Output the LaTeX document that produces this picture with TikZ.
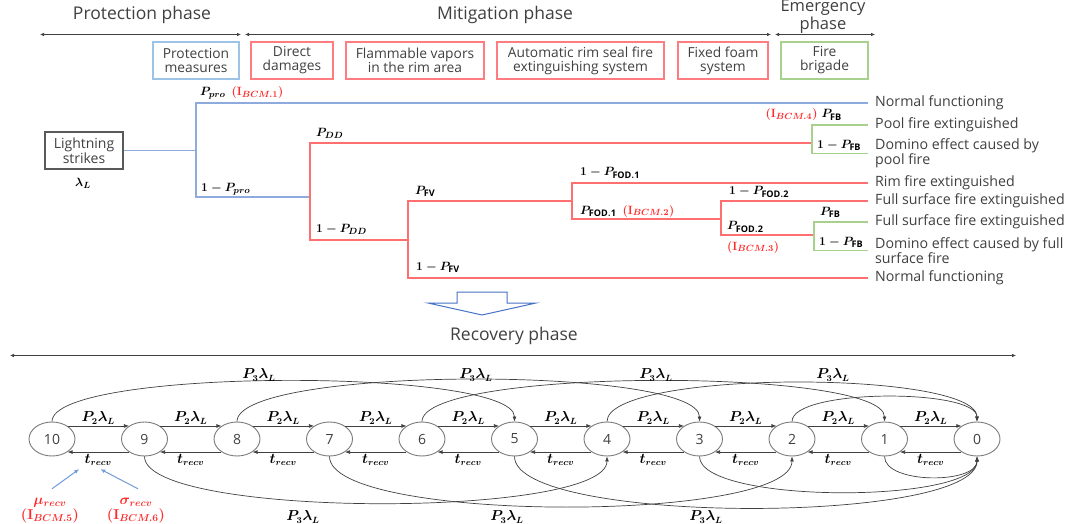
\documentclass[tikz,border=0pt]{standalone}
\usepackage{amsmath}
\usepackage{fontspec}
\setmainfont{Open Sans}
\usetikzlibrary{arrows.meta, positioning, shapes.geometric}
\definecolor{txtgray}{HTML}{404040}
\definecolor{lsgray}{HTML}{595959}
\definecolor{treeblue}{HTML}{8FAADC}
\definecolor{boxblue}{HTML}{9DC3E6}
\definecolor{treered}{HTML}{FF6F6F}
\definecolor{boxred}{HTML}{FF7C80}
\definecolor{treegreen}{HTML}{A9D18E}
\definecolor{boxgreen}{HTML}{A9D18E}
\definecolor{bcmred}{HTML}{FF2A2A}
\definecolor{arrowblue}{HTML}{4472C4}
\definecolor{inblue}{HTML}{6F9BD8}
\newcommand{\bcmtag}[1]{\textcolor{bcmred}{$(\mathbf{I}_{BCM.#1})$}}
\tikzset{
    phase/.style={font=\fontsize{17.5}{19}\selectfont, text=txtgray, inner sep=0pt},
    span/.style={{Latex[length=4pt,width=3.5pt]}-{Latex[length=4pt,width=3.5pt]}, black!75, line width=0.7pt},
    barrier/.style={draw=#1, line width=1.1pt, minimum height=37pt, align=center,
        font=\fontsize{13.8}{14}\selectfont, text=txtgray, inner sep=1pt},
    outcome/.style={anchor=west, align=left, font=\fontsize{14.2}{15}\selectfont, text=txtgray, inner sep=0pt},
    prob/.style={anchor=west, inner sep=0pt, font=\fontsize{13}{15}\selectfont\boldmath},
    blueln/.style={draw=treeblue, line width=1.2pt},
    redln/.style={draw=treered, line width=1.2pt},
    greenln/.style={draw=treegreen, line width=1.2pt},
    state/.style={draw=lsgray!80, ellipse, minimum width=46pt, minimum height=34pt, inner sep=0pt, line width=0.9pt,
        font=\fontsize{14}{15}\selectfont, text=txtgray},
    rate/.style={inner sep=1.5pt, font=\fontsize{13.5}{15}\selectfont\boldmath},
    hop/.style={-{Latex[length=5pt,width=4pt]}, draw=black!75, line width=0.7pt},
    inflow/.style={-{Latex[length=5pt,width=4pt]}, draw=inblue, line width=1pt},
    bcmlbl/.style={align=center, inner sep=0pt, text=bcmred, font=\fontsize{14}{15}\selectfont\boldmath}
}
\begin{document}
\begin{tikzpicture}[x=1pt,y=1pt]
    \useasboundingbox (0,0) rectangle (1068,-524);
    % phases
    \node[phase] (hprot) at (142,-15) {Protection phase};
    \node[phase] (hmit) at (505,-15) {Mitigation phase};
    \node[phase, align=center, font=\fontsize{16.5}{18}\selectfont] (hemg) at (823,-17) {Emergency\\phase};
    \coordinate (h0) at (40,-34.5);
    \coordinate (h1) at (241,-34.5);
    \coordinate (h2) at (245,-34.5);
    \coordinate (h3) at (771,-34.5);
    \coordinate (h4) at (775,-34.5);
    \coordinate (h5) at (875,-34.5);
    \draw[span] (h0) -- (h1);
    \draw[span] (h2) -- (h3);
    \draw[span] (h4) -- (h5);
    \node[barrier=boxblue, minimum width=86pt] (bpro) at (196,-60.5) {Protection\\measures};
    \node[barrier=boxred, minimum width=82pt] (bdd) at (292,-60.5) {Direct\\damages};
    \node[barrier=boxred, minimum width=138pt] (bfv) at (415,-60.5) {Flammable vapors\\in the rim area};
    \node[barrier=boxred, minimum width=167pt] (bars) at (580.5,-60.5) {Automatic rim seal fire\\extinguishing system};
    \node[barrier=boxred, minimum width=90pt] (bffs) at (723,-60.5) {Fixed foam\\system};
    \node[barrier=boxgreen, minimum width=87pt] (bfb) at (824.5,-60.5) {Fire\\brigade};

    % event tree
    \node[draw=lsgray, line width=1.1pt, minimum width=78pt, minimum height=37pt, align=center,
        font=\fontsize{14}{15}\selectfont, text=txtgray, inner sep=1pt] (ls) at (84,-150.5) {Lightning\\strikes};
    \node[prob, anchor=center] (lam) at (83,-183) {$\lambda_L$};
    \node[outcome] (o1) at (875,-103) {Normal functioning};
    \node[outcome] (o2) at (875,-125) {Pool fire extinguished};
    \node[outcome] (o3) at (875,-153.5) {Domino effect caused by\\pool fire};
    \node[outcome] (o4) at (875,-183) {Rim fire extinguished};
    \node[outcome] (o5) at (875,-201) {Full surface fire extinguished};
    \node[outcome] (o6) at (875,-222) {Full surface fire extinguished};
    \node[outcome] (o7) at (875,-250.5) {Domino effect caused by full\\surface fire};
    \node[outcome] (o8) at (875,-278) {Normal functioning};
    \foreach \i in {1,...,8}
        \coordinate (e\i) at ([xshift=-7pt]o\i.west);
    \coordinate (p1) at (196,-150.5);
    \coordinate (p1u) at (196,-103);
    \coordinate (d1) at (310,-197);
    \coordinate (d1u) at (310,-143);
    \coordinate (f1) at (408,-240);
    \coordinate (f1u) at (408,-201);
    \coordinate (r1) at (572,-201);
    \coordinate (r1u) at (572,-183);
    \coordinate (r2) at (721,-219);
    \coordinate (r2u) at (721,-201);
    \coordinate (g1) at (812,-143);
    \coordinate (g1u) at (812,-125);
    \coordinate (g2) at (814,-235);
    \coordinate (g2u) at (814,-222);
    \draw[blueln] (ls.east) -- (p1);
    \draw[blueln] (d1) -| (p1u) -- (e1);
    \draw[redln] (f1) -| (d1u) -- (g1);
    \draw[redln] (e8) -| (f1u) -- (r1);
    \draw[redln] (r2) -| (r1u) -- (e4);
    \draw[redln] (g2) -| (r2u) -- (e5);
    \draw[greenln] (e3) -| (g1u) -- (e2);
    \draw[greenln] (e7) -| (g2u) -- (e6);
    \node[prob] (lppro) at (200,-93) {$P_{pro}$\hspace{6pt}\bcmtag{1}};
    \node[prob] (lpdd) at (316,-133) {$P_{DD}$};
    \node[prob] (lnpro) at (201,-189) {$1-P_{pro}$};
    \node[prob] (lpfv) at (415,-191) {$P_{\mathrm{FV}}$};
    \node[prob] (lndd) at (316,-229) {$1-P_{DD}$};
    \node[prob] (lnfv) at (416,-267) {$1-P_{\mathrm{FV}}$};
    \node[prob] (lnfod1) at (580,-173) {$1-P_{\mathrm{FOD.1}}$};
    \node[prob] (lpfod1) at (580,-211) {$P_{\mathrm{FOD.1}}$\hspace{6pt}\bcmtag{2}};
    \node[prob] (lnfod2) at (729,-192) {$1-P_{\mathrm{FOD.2}}$};
    \node[prob] (lpfod2) at (727,-227) {$P_{\mathrm{FOD.2}}$};
    \node[prob] (lbcm3) at (727,-247) {\bcmtag{3}};
    \node[prob, anchor=east] (lpfb1) at (842,-115) {\bcmtag{4}\hspace{4pt}$P_{\mathrm{FB}}$};
    \node[prob] (lnfb1) at (817,-145) {$1-P_{\mathrm{FB}}$};
    \node[prob] (lpfb2) at (820,-212) {$P_{\mathrm{FB}}$};
    \node[prob] (lnfb2) at (819,-242) {$1-P_{\mathrm{FB}}$};

    % hollow arrow
    \draw[arrowblue, line width=1pt, line join=miter] (457,-292) -- (507,-292) -- (507,-303) -- (536,-303)
        -- (482,-315) -- (428,-303) -- (457,-303) -- cycle;

    % recovery chain
    \node[phase] (hrec) at (514,-336) {Recovery phase};
    \coordinate (q0) at (10,-355.5);
    \coordinate (q1) at (1016,-355.5);
    \draw[span] (q0) -- (q1);
    \foreach \k in {0,...,10}
        \node[state] (s\k) at ({977-92.5*\k},-439) {\k};
    \foreach \k [evaluate=\k as \j using int(\k-1)] in {1,...,10} {
        \draw[hop] (s\k.40) -- node[rate, above] {$P_2\lambda_L$} (s\j.140);
        \draw[hop] (s\j.220) -- node[rate, below] (tr\k) {$t_{recv}$} (s\k.-40);
    }
    \draw[hop] (s10.north) to[out=90, in=90, looseness=0.30] (s5.north);
    \draw[hop] (s8.north) to[out=90, in=90, looseness=0.31] (s3.north);
    \draw[hop] (s6.north) to[out=90, in=90, looseness=0.30] (s1.north);
    \draw[hop] (s4.north) to[out=90, in=90, looseness=0.36] (s0.north);
    \draw[hop] (s2.north) to[out=90, in=90, looseness=0.46] (s0.north);
    \draw[hop] (s9.south) to[out=-90, in=-90, looseness=0.345] (s4.south);
    \draw[hop] (s7.south) to[out=-90, in=-90, looseness=0.37] (s2.south);
    \draw[hop] (s5.south) to[out=-90, in=-90, looseness=0.38] (s0.south);
    \draw[hop] (s3.south) to[out=-90, in=-90, looseness=0.44] (s0.south);
    \draw[hop] (s1.south) to[out=-90, in=-90, looseness=0.77] (s0.south);
    \node[rate] (u1) at (259,-375) {$P_3\lambda_L$};
    \node[rate] (u2) at (476,-375) {$P_3\lambda_L$};
    \node[rate] (u3) at (656,-375) {$P_3\lambda_L$};
    \node[rate] (u4) at (833,-375) {$P_3\lambda_L$};
    \node[rate] (v1) at (303,-517) {$P_3\lambda_L$};
    \node[rate] (v2) at (507,-517) {$P_3\lambda_L$};
    \node[rate] (v3) at (706,-517) {$P_3\lambda_L$};
    \node[bcmlbl] (mu) at (50,-510.5) {$\mu_{recv}$\\$(\mathbf{I}_{BCM.5})$};
    \node[bcmlbl] (sig) at (136,-510.5) {$\sigma_{recv}$\\$(\mathbf{I}_{BCM.6})$};
    \draw[inflow] ([xshift=2pt,yshift=9pt]mu.north) -- ([xshift=-19pt,yshift=-2pt]tr10.south);
    \draw[inflow] ([xshift=2pt,yshift=9pt]sig.north) -- ([xshift=2pt,yshift=-2pt]tr10.south);
\end{tikzpicture}
\end{document}
